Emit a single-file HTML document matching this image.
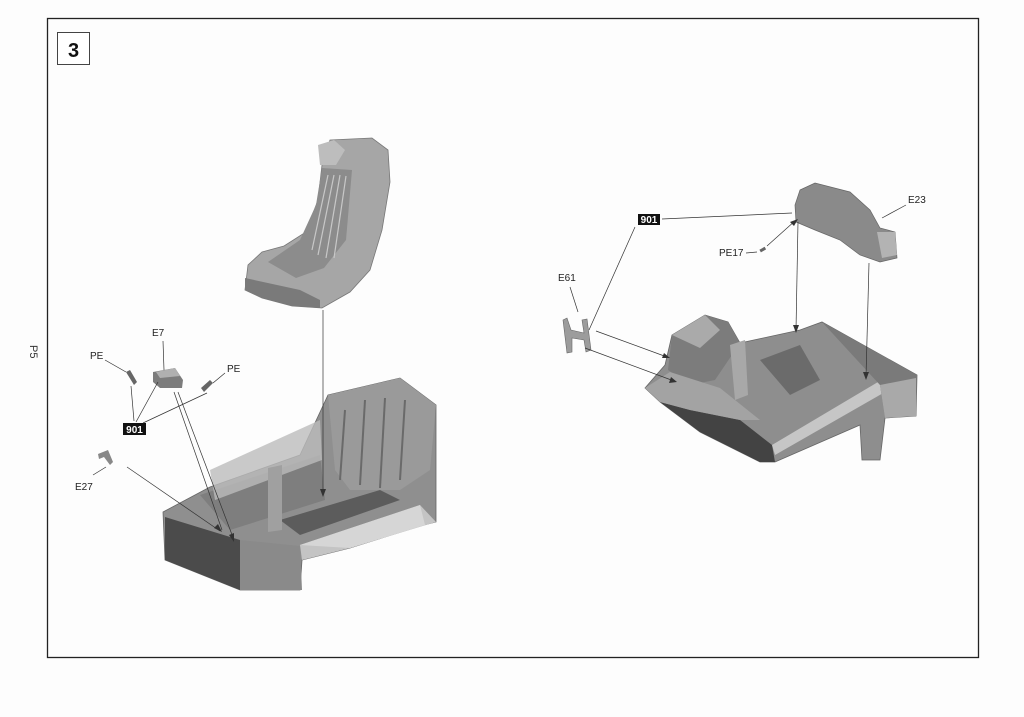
<!DOCTYPE html>
<html><head><style>
html,body{margin:0;padding:0;background:#fff;}
svg{display:block;}
text{font-family:"Liberation Sans",sans-serif;}
</style></head><body>
<svg width="1024" height="717" viewBox="0 0 1024 717" xmlns="http://www.w3.org/2000/svg">
<rect width="1024" height="717" fill="#fdfdfd"/>
<rect x="47.5" y="18.5" width="931" height="639" fill="none" stroke="#222" stroke-width="1.3"/>
<rect x="57.5" y="32.5" width="32" height="32" fill="#fff" stroke="#444" stroke-width="1"/>
<text x="73.5" y="57" font-size="20" font-weight="bold" text-anchor="middle" fill="#111">3</text>
<text x="30" y="345" font-size="11" fill="#333" transform="rotate(90 30 345)">P5</text>

<!-- Left seat -->
<g>
<polygon points="330,140 372,138 388,150 390,182 382,230 370,270 350,292 322,308 292,306 262,298 245,290 248,265 262,252 284,246 306,232 318,200 322,165" fill="#a6a6a6" stroke="#777" stroke-width="0.8"/>
<polygon points="322,168 352,170 346,240 324,268 296,278 268,262 300,240 316,205" fill="#8c8c8c"/>
<g stroke="#c8c8c8" stroke-width="1.2">
<line x1="328" y1="175" x2="312" y2="250"/><line x1="334" y1="175" x2="318" y2="255"/><line x1="340" y1="175" x2="326" y2="258"/><line x1="346" y1="176" x2="334" y2="258"/>
</g>
<polygon points="245,278 300,290 320,300 320,308 292,306 262,298 245,290" fill="#7a7a7a"/>
<polygon points="318,145 334,140 345,150 336,165 320,165" fill="#bdbdbd"/>
</g>

<!-- Left tub -->
<polygon points="163,512 210,487 300,455 328,395 400,378 436,405 436,522 420,526 350,548 302,560 300,590 240,590 165,560" fill="#8f8f8f" stroke="#666" stroke-width="0.8"/>
<polygon points="165,517 240,540 240,590 165,560" fill="#4b4b4b"/>
<polygon points="240,540 300,546 302,590 240,590" fill="#8a8a8a"/>
<polygon points="300,545 420,505 436,522 350,548 302,560" fill="#c4c4c4"/>
<polygon points="300,545 420,505 425,525 350,548" fill="#d6d6d6"/>
<polygon points="200,495 320,455 325,500 230,530" fill="#7e7e7e"/>
<polygon points="210,470 320,420 322,460 215,500" fill="#bcbcbc" opacity="0.8"/>
<polygon points="280,520 380,490 400,500 300,535" fill="#5c5c5c"/>
<polygon points="328,395 400,378 436,405 430,470 400,490 350,490 335,470" fill="#9a9a9a"/>
<g stroke="#6a6a6a" stroke-width="2"><line x1="345" y1="410" x2="340" y2="480"/><line x1="365" y1="400" x2="360" y2="485"/><line x1="385" y1="398" x2="380" y2="488"/><line x1="405" y1="400" x2="400" y2="480"/></g>
<polygon points="268,468 282,465 282,530 268,532" fill="#a0a0a0"/>

<!-- Left small parts -->
<polygon points="153,372 175,368 183,380 182,388 160,388 153,382" fill="#7c7c7c"/>
<polygon points="156,372 175,368 180,376 160,378" fill="#b0b0b0"/>
<polygon points="126,372 130,370 137,382 134,385" fill="#666"/>
<polygon points="201,388 210,380 213,383 204,392" fill="#666"/>
<polygon points="98,454 108,450 113,462 110,465 104,457 99,459" fill="#888"/>
<rect x="123" y="423" width="23" height="12" fill="#111"/>
<text x="134.5" y="433" font-size="10" font-weight="bold" fill="#fff" text-anchor="middle">901</text>
<g font-size="10" fill="#222">
<text x="90" y="359">PE</text><text x="152" y="336">E7</text><text x="227" y="372">PE</text><text x="75" y="490">E27</text>
</g>
<g stroke="#333" stroke-width="0.7" fill="none">
<line x1="105" y1="360" x2="126" y2="372"/>
<line x1="163" y1="341" x2="164" y2="370"/>
<line x1="225" y1="373" x2="213" y2="383"/>
<line x1="131" y1="386" x2="134" y2="421"/>
<line x1="158" y1="382" x2="136" y2="422"/>
<line x1="207" y1="393" x2="143" y2="423"/>
<line x1="93" y1="475" x2="106" y2="467"/>
<line x1="127" y1="467" x2="220" y2="531"/>
<line x1="174" y1="392" x2="222" y2="530"/>
<line x1="178" y1="392" x2="234" y2="540"/>
<line x1="323" y1="310" x2="323" y2="494"/>
</g>
<g fill="#333"><polygon points="323,497 320,489 326,489"/><polygon points="222,532 214,528 218,524"/><polygon points="234,542 229,535 234,533"/></g>

<!-- Right tub -->
<polygon points="645,388 665,365 672,335 705,315 728,322 740,343 800,330 822,322 917,375 916,416 885,418 880,460 862,460 860,425 775,462 760,462 700,432 660,402" fill="#8e8e8e" stroke="#666" stroke-width="0.8"/>
<polygon points="660,402 700,432 760,462 775,462 772,445 740,420 690,410" fill="#434343"/>
<polygon points="772,445 878,382 885,392 775,455" fill="#c6c6c6"/>
<polygon points="822,322 917,375 916,416 885,418 880,385" fill="#7a7a7a"/>
<polygon points="880,385 916,378 916,416 885,418" fill="#a9a9a9"/>
<polygon points="672,335 705,315 728,322 740,343 715,380 690,385 668,370" fill="#7c7c7c"/>
<polygon points="672,335 705,315 720,330 700,348" fill="#aaaaaa"/>
<polygon points="760,360 800,345 820,380 790,395" fill="#6b6b6b"/>
<polygon points="730,345 745,340 748,395 735,400" fill="#a8a8a8"/>
<polygon points="645,388 670,372 720,388 760,420 740,420 690,410 660,402" fill="#a3a3a3"/>

<!-- E23 part -->
<polygon points="800,190 815,183 850,192 870,210 880,228 895,232 897,258 880,262 860,255 840,240 815,230 796,222 795,205" fill="#8a8a8a" stroke="#666" stroke-width="0.7"/>
<polygon points="877,232 895,232 897,255 882,258" fill="#b3b3b3"/>
<!-- E61 H part -->
<polygon points="563,320 567,318 571,330 584,333 582,320 587,319 591,350 586,352 584,340 572,338 572,352 567,353" fill="#9c9c9c" stroke="#666" stroke-width="0.6"/>
<rect x="760" y="248" width="6" height="3" fill="#666" transform="rotate(-30 763 250)"/>

<rect x="638" y="214" width="22" height="11" fill="#111"/>
<text x="649" y="223" font-size="10" font-weight="bold" fill="#fff" text-anchor="middle">901</text>
<g font-size="10" fill="#222">
<text x="558" y="281">E61</text><text x="719" y="256">PE17</text><text x="908" y="203">E23</text>
</g>
<g stroke="#333" stroke-width="0.7" fill="none">
<line x1="662" y1="219" x2="792" y2="213"/>
<line x1="635" y1="227" x2="589" y2="330"/>
<line x1="570" y1="287" x2="578" y2="312"/>
<line x1="596" y1="331" x2="667" y2="357"/>
<line x1="585" y1="348" x2="674" y2="381"/>
<line x1="746" y1="253" x2="757" y2="252"/>
<line x1="767" y1="246" x2="796" y2="220"/>
<line x1="798" y1="222" x2="796" y2="330"/>
<line x1="869" y1="263" x2="866" y2="377"/>
<line x1="882" y1="218" x2="906" y2="205"/>
</g>
<g fill="#333"><polygon points="796,333 793,325 799,325"/><polygon points="866,380 863,372 869,372"/><polygon points="670,358 662,358 664,353"/><polygon points="677,382 669,383 671,377"/><polygon points="798,219 790,222 794,226"/></g>
</svg>
</body></html>
